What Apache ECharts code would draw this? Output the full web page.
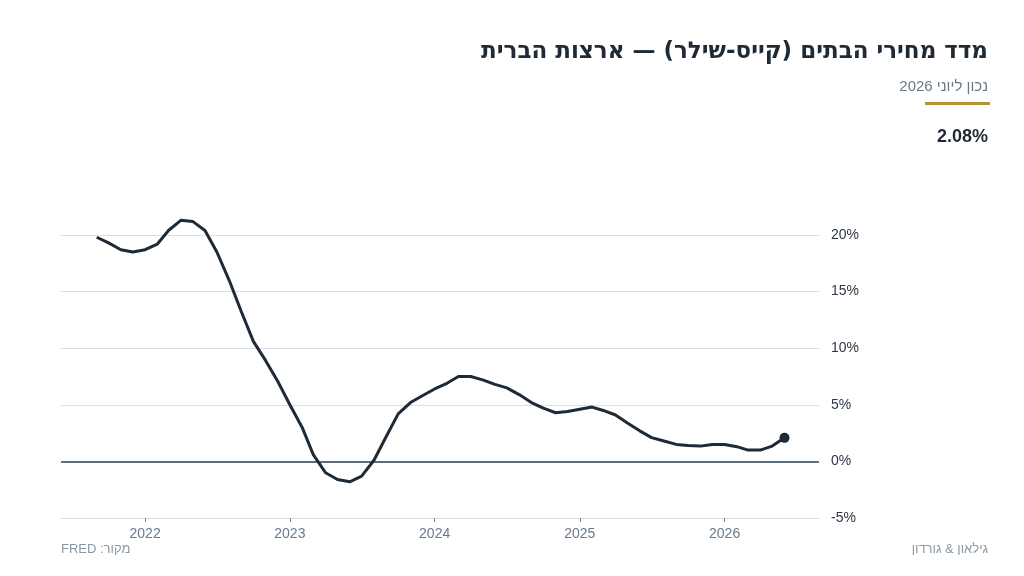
<!DOCTYPE html>
<html lang="he">
<head>
    <meta charset="utf-8">
    <title>מדד מחירי הבתים (קייס-שילר)</title>
    <style>
        html, body { margin: 0; padding: 0; background: #ffffff; }
        #main { width: 1024px; height: 576px; }
    </style>
</head>
<body>
<div id="main"></div>
<script src="https://cdn.jsdelivr.net/npm/echarts@6/dist/echarts.min.js"></script>
<script type="text/javascript">

    // נתונים - שינוי שנתי במדד קייס-שילר (%), חודשי
    var months = [
        '2021-09', '2021-10', '2021-11', '2021-12',
        '2022-01', '2022-02', '2022-03', '2022-04', '2022-05', '2022-06',
        '2022-07', '2022-08', '2022-09', '2022-10', '2022-11', '2022-12',
        '2023-01', '2023-02', '2023-03', '2023-04', '2023-05', '2023-06',
        '2023-07', '2023-08', '2023-09', '2023-10', '2023-11', '2023-12',
        '2024-01', '2024-02', '2024-03', '2024-04', '2024-05', '2024-06',
        '2024-07', '2024-08', '2024-09', '2024-10', '2024-11', '2024-12',
        '2025-01', '2025-02', '2025-03', '2025-04', '2025-05', '2025-06',
        '2025-07', '2025-08', '2025-09', '2025-10', '2025-11', '2025-12',
        '2026-01', '2026-02', '2026-03', '2026-04', '2026-05', '2026-06'
    ];
    var yoy = [
        19.8, 19.3, 18.7, 18.5,
        18.7, 19.2, 20.4, 21.3, 21.2, 20.4,
        18.5, 16.0, 13.2, 10.6, 8.9, 7.1,
        5.0, 3.0, 0.6, -1.0, -1.6, -1.8,
        -1.3, 0.1, 2.2, 4.2, 5.2, 5.8,
        6.4, 6.9, 7.5, 7.5, 7.2, 6.8,
        6.5, 5.9, 5.2, 4.7, 4.3, 4.4,
        4.6, 4.8, 4.5, 4.1, 3.4, 2.7,
        2.1, 1.8, 1.5, 1.4, 1.35, 1.5,
        1.5, 1.3, 1.0, 1.0, 1.35, 2.08
    ];
    var yearTicks = ['2022', '2023', '2024', '2025', '2026'];
    var yTicks = [-5, 0, 5, 10, 15, 20];

    // עטיפה בכיווניות מימין לשמאל
    function rtl(s) { return '\u202B' + s + '\u202C'; }
    function toTime(s) { return Date.UTC(+s.slice(0, 4), s.length > 4 ? +s.slice(5, 7) - 1 : 0, 1); }

    var lastValue = yoy[yoy.length - 1];
    var seriesData = [];
    for (var i = 0; i < months.length; i++) {
        var item = { value: [toTime(months[i]), yoy[i]] };
        if (i === months.length - 1) {
            item.symbol = 'circle';
            item.symbolSize = 10;
        }
        seriesData.push(item);
    }
    var tickTimes = yearTicks.map(toTime);

    var myChart = echarts.init(document.getElementById('main'));
    var option = {
        backgroundColor: '#ffffff',
        animation: false,
        title: [
            {
                text: rtl('מדד מחירי הבתים (קייס-שילר) — ארצות הברית'),
                right: 36, top: 41, padding: 0,
                textStyle: { fontFamily: 'DejaVu Sans', fontSize: 23, fontWeight: 'bold', color: '#1f2a37' }
            },
            {
                text: rtl('נכון ליוני 2026'),
                right: 36, top: 79, padding: 0,
                textStyle: { fontFamily: 'Liberation Sans', fontSize: 15, fontWeight: 'normal', color: '#6b7a8a' }
            },
            {
                text: lastValue.toFixed(2) + '%',
                right: 36, top: 128, padding: 0,
                textStyle: { fontFamily: 'Liberation Sans', fontSize: 18, fontWeight: 'bold', color: '#1f2a37' }
            },
            {
                text: rtl('מקור: FRED'),
                left: 61, top: 543, padding: 0,
                textStyle: { fontFamily: 'Liberation Sans', fontSize: 13, fontWeight: 'normal', color: '#8a98a6' }
            },
            {
                text: rtl('גילאון & גורדון'),
                right: 36, top: 543, padding: 0,
                textStyle: { fontFamily: 'Liberation Sans', fontSize: 13, fontWeight: 'normal', color: '#8a98a6' }
            }
        ],
        graphic: [
            {
                type: 'rect',
                right: 34, top: 102,
                shape: { width: 65, height: 3 },
                style: { fill: '#b39431' }
            }
        ],
        grid: { left: 61, right: 205, top: 235, bottom: 58 },
        xAxis: {
            type: 'value',
            min: Date.UTC(2021, 5, 3),
            max: Date.UTC(2026, 7, 27),
            axisLine: { show: true, onZero: false, lineStyle: { color: '#d3dbe2', width: 1 } },
            axisTick: { show: true, length: 4, customValues: tickTimes, lineStyle: { color: '#7a8794' } },
            axisLabel: {
                customValues: tickTimes,
                formatter: function (v) { return String(new Date(v).getUTCFullYear()); },
                color: '#6b7a8a', fontSize: 14, fontFamily: 'Liberation Sans', margin: 9
            },
            splitLine: { show: false }
        },
        yAxis: {
            type: 'value',
            position: 'right',
            min: yTicks[0],
            max: yTicks[yTicks.length - 1],
            interval: 5,
            axisLine: { show: false },
            axisTick: { show: false },
            axisLabel: {
                formatter: '{value}%',
                color: '#2d3743', fontSize: 14, fontFamily: 'Liberation Sans', margin: 12
            },
            splitLine: { show: true, lineStyle: { color: '#d9e0e6', width: 1 } }
        },
        series: [
            {
                type: 'line',
                data: seriesData,
                symbol: 'none',
                showSymbol: true,
                clip: false,
                lineStyle: { color: '#1f2a37', width: 3 },
                itemStyle: { color: '#1f2a37' },
                markLine: {
                    silent: true,
                    symbol: 'none',
                    label: { show: false },
                    lineStyle: { color: '#5e6e7b', width: 2, type: 'solid' },
                    data: [{ yAxis: 0 }]
                },
                z: 5
            }
        ]
    };
    myChart.setOption(option);

</script>
</body>
</html>
